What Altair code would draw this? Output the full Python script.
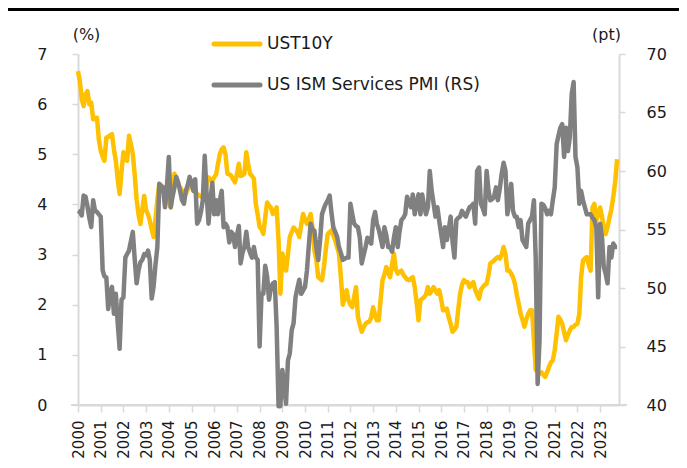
import altair as alt
import pandas as pd

# ---------------- data (monthly, Jan 2000 - Oct 2023) ----------------
start_year = 2000
year_ticks = list(range(2000, 2024))
series_names = ["UST10Y", "US ISM Services PMI (RS)"]
series_colors = ["#FFC000", "#808080"]

ust10y = [
    6.66, 6.45, 6.10, 5.96, 6.20, 6.26, 6.00, 6.03, 5.70, 5.72, 5.73, 5.30,  # 2000
    5.07, 4.95, 4.87, 5.33, 5.35, 5.38, 5.40, 5.10, 4.87, 4.50, 4.21, 4.65,  # 2001
    5.04, 4.95, 4.87, 5.37, 5.20, 5.00, 4.60, 4.10, 3.80, 3.61, 3.90, 4.17,  # 2002
    3.88, 3.80, 3.68, 3.50, 3.35, 3.70, 4.10, 4.41, 4.38, 4.34, 4.28, 4.21,  # 2003
    4.05, 3.94, 4.30, 4.61, 4.50, 4.40, 4.34, 4.28, 4.21, 4.21, 4.30, 4.41,  # 2004
    4.35, 4.28, 4.25, 4.21, 4.18, 4.16, 4.14, 4.21, 4.40, 4.54, 4.50, 4.47,  # 2005
    4.54, 4.60, 4.80, 5.00, 5.10, 5.14, 5.00, 4.61, 4.60, 4.57, 4.50, 4.44,  # 2006
    4.60, 4.81, 4.57, 4.58, 4.61, 5.04, 4.80, 4.61, 4.57, 4.51, 4.01, 3.80,  # 2007
    3.55, 3.50, 3.41, 3.75, 4.04, 3.98, 3.94, 3.81, 3.85, 3.94, 3.28, 2.22,  # 2008
    3.02, 2.85, 2.68, 3.00, 3.35, 3.45, 3.54, 3.50, 3.45, 3.35, 3.60, 3.81,  # 2009
    3.70, 3.61, 3.70, 3.81, 3.54, 3.08, 2.90, 2.55, 2.52, 2.49, 2.75, 3.10,  # 2010
    3.41, 3.45, 3.48, 3.38, 3.28, 3.15, 3.02, 2.55, 2.00, 2.15, 2.29, 2.09,  # 2011
    2.00, 1.95, 2.15, 2.35, 1.76, 1.60, 1.46, 1.55, 1.62, 1.65, 1.66, 1.75,  # 2012
    1.95, 1.80, 1.69, 1.69, 2.10, 2.49, 2.60, 2.75, 2.65, 2.55, 2.80, 3.02,  # 2013
    2.70, 2.62, 2.65, 2.68, 2.60, 2.55, 2.50, 2.49, 2.52, 2.55, 2.35, 2.05,  # 2014
    1.69, 2.09, 2.12, 2.15, 2.20, 2.35, 2.22, 2.28, 2.35, 2.28, 2.22, 2.29,  # 2015
    2.10, 1.89, 1.90, 1.92, 1.75, 1.62, 1.46, 1.50, 1.56, 1.90, 2.22, 2.40,  # 2016
    2.49, 2.45, 2.45, 2.35, 2.40, 2.45, 2.30, 2.20, 2.12, 2.30, 2.35, 2.40,  # 2017
    2.42, 2.60, 2.82, 2.85, 2.88, 2.92, 2.95, 2.92, 3.00, 3.15, 3.00, 2.68,  # 2018
    2.68, 2.62, 2.55, 2.42, 2.20, 2.02, 1.82, 1.70, 1.56, 1.70, 1.82, 1.89,  # 2019
    1.89, 1.30, 0.70, 0.66, 0.63, 0.65, 0.60, 0.56, 0.66, 0.76, 0.85, 0.89,  # 2020
    1.10, 1.43, 1.76, 1.70, 1.62, 1.45, 1.29, 1.40, 1.49, 1.55, 1.56, 1.60,  # 2021
    1.62, 1.82, 2.55, 2.88, 2.92, 2.95, 2.80, 2.68, 3.94, 4.01, 3.68, 3.81,  # 2022
    3.94, 3.75, 3.54, 3.41, 3.55, 3.74, 3.90, 4.15, 4.45, 4.90,              # 2023
]

ism_services = [
    56.6, 56.5, 56.2, 57.9, 57.8, 57.0, 56.0, 55.2, 57.5, 56.6, 56.5, 56.3,  # 2000
    56.1, 51.5, 51.0, 50.9, 48.2, 49.5, 50.1, 47.8, 49.5, 47.0, 44.8, 49.0,  # 2001
    49.2, 52.6, 52.9, 53.2, 54.0, 54.8, 52.5, 50.4, 51.5, 52.2, 52.4, 52.9,  # 2002
    52.8, 53.2, 52.4, 49.1, 50.1, 52.0, 53.5, 58.9, 58.7, 58.6, 56.9, 58.6,  # 2003
    61.2, 56.9, 57.8, 58.6, 59.5, 59.0, 58.3, 57.5, 57.2, 58.3, 58.8, 59.5,  # 2004
    59.0, 58.3, 59.3, 55.5, 55.8, 56.5, 57.5, 61.3, 58.0, 55.5, 57.5, 59.0,  # 2005
    56.3, 57.5, 56.3, 57.5, 58.3, 55.2, 55.5, 55.2, 53.9, 54.8, 54.6, 53.5,  # 2006
    54.5, 55.3, 52.1, 53.0, 53.5, 54.8, 53.5, 53.0, 52.6, 53.5, 52.6, 52.4,  # 2007
    45.0, 49.5, 49.5, 51.9, 51.0, 49.0, 50.0, 50.4, 50.5, 46.7, 39.9, 39.9,  # 2008
    43.0, 41.5, 40.1, 43.8, 44.4, 46.4, 47.0, 49.2, 50.0, 50.7, 49.5, 49.8,  # 2009
    50.1, 51.5, 53.5, 55.5, 55.0, 54.9, 53.5, 52.4, 54.1, 56.3, 56.8, 57.2,  # 2010
    57.5, 57.9, 56.5, 55.2, 54.8, 54.4, 53.5, 53.0, 52.4, 52.5, 52.6, 52.6,  # 2011
    57.2, 56.3, 55.5, 55.3, 55.2, 54.3, 52.1, 52.8, 53.5, 54.3, 54.0, 53.8,  # 2012
    55.8, 56.5, 55.5, 55.0, 54.3, 53.5, 55.2, 54.5, 53.5, 53.5, 53.1, 54.3,  # 2013
    55.2, 53.5, 54.8, 55.8, 56.0, 56.3, 57.8, 57.3, 56.9, 58.0, 56.3, 57.2,  # 2014
    58.0, 56.3, 58.0, 57.0, 56.3, 56.9, 60.0, 58.3, 57.2, 56.1, 56.9, 55.7,  # 2015
    54.6, 53.5, 55.2, 54.1, 55.0, 56.1, 54.0, 52.6, 55.8, 56.0, 56.1, 56.6,  # 2016
    56.3, 56.1, 56.5, 56.9, 57.0, 57.2, 55.5, 60.0, 60.3, 57.2, 56.8, 56.3,  # 2017
    60.0, 58.3, 57.5, 57.6, 57.8, 58.6, 57.5, 58.5, 59.8, 60.7, 60.0, 56.3,  # 2018
    57.5, 58.9, 56.6, 56.1, 56.1, 55.2, 55.8, 54.1, 53.8, 53.5, 55.5, 55.8,  # 2019
    56.1, 57.5, 52.5, 41.8, 45.5, 57.2, 57.1, 56.8, 56.3, 56.6, 56.3, 57.5,  # 2020
    58.6, 62.3, 63.0, 63.7, 64.0, 61.2, 63.7, 61.7, 62.9, 66.6, 67.6, 61.2,  # 2021
    60.3, 57.2, 58.3, 57.5, 56.9, 56.3, 56.3, 56.3, 56.0, 55.8, 55.2, 49.2,  # 2022
    55.5, 54.3, 51.8, 51.2, 50.4, 53.5, 52.6, 53.8, 53.5, 53.5,              # 2023
]

months = [f"{start_year + k // 12}-{k % 12 + 1:02d}-01T00:00:00" for k in range(len(ust10y))]
df = pd.DataFrame({"date": months, "ust": ust10y, "ism": ism_services})

# ---------------- layout / style ----------------
W, H = 541, 351
FONT = "DejaVu Sans"
AXIS_GREY = "#d9d9d9"
TEXT = "#1a1a1a"

x_enc = alt.X(
    "date:T",
    scale=alt.Scale(domain=[alt.DateTime(year=2000, month=1, date=1),
                            alt.DateTime(year=2023, month=11, date=1)]),
    axis=alt.Axis(
        title=None, format="%Y",
        values=[alt.DateTime(year=y, month=1, date=1) for y in year_ticks],
        labelAngle=-90, labelFont=FONT, labelFontSize=15, labelColor=TEXT,
        labelPadding=8, labelOverlap=False, labelFlush=False,
        tickSize=7, tickColor=AXIS_GREY, tickWidth=1.5,
        domainColor=AXIS_GREY, domainWidth=2, grid=False,
    ),
)

left_axis = alt.Axis(
    orient="left", values=list(range(0, 8)), grid=False,
    labelFont=FONT, labelFontSize=16, labelColor=TEXT, labelPadding=25,
    tickSize=6, tickColor=AXIS_GREY, tickWidth=1.5,
    domainColor=AXIS_GREY, domainWidth=2,
    title="(%)", titleAngle=0, titleX=8, titleY=-20, titleAlign="center",
    titleBaseline="middle", titleFont=FONT, titleFontSize=16,
    titleFontWeight="normal", titleColor=TEXT,
)
right_axis = alt.Axis(
    orient="right", values=list(range(40, 75, 5)), grid=False,
    labelFont=FONT, labelFontSize=16, labelColor=TEXT, labelPadding=21,
    tickSize=6, tickColor=AXIS_GREY, tickWidth=1.5,
    domainColor=AXIS_GREY, domainWidth=2,
    title="(pt)", titleAngle=0, titleX=-13, titleY=-20, titleAlign="center",
    titleBaseline="middle", titleFont=FONT, titleFontSize=16,
    titleFontWeight="normal", titleColor=TEXT,
)

yellow = alt.Chart(df).mark_line(
    color=series_colors[0], strokeWidth=4.5, strokeJoin="round"
).encode(
    x=x_enc,
    y=alt.Y("ust:Q", scale=alt.Scale(domain=[0, 7], nice=False, zero=False), axis=left_axis),
)

grey = alt.Chart(df).mark_line(
    color=series_colors[1], strokeWidth=4.5, strokeJoin="round"
).encode(
    x=x_enc,
    y=alt.Y("ism:Q", scale=alt.Scale(domain=[40, 70], nice=False, zero=False), axis=right_axis),
)

one = pd.DataFrame({"k": [0]})

# extended baseline (Excel style, slightly past both vertical axes)
baseline = alt.Chart(one).mark_rule(color=AXIS_GREY, strokeWidth=2).encode(
    x=alt.value(-7), x2=alt.value(W + 8), y=alt.value(H)
)

# thick black rule at the very top of the figure
top_rule = alt.Chart(one).mark_rule(color="#000000", strokeWidth=3).encode(
    x=alt.value(-70), x2=alt.value(W + 60), y=alt.value(-44.5)
)

legend_layers = []
for i, (name, col) in enumerate(zip(series_names, series_colors)):
    ly = -10 + 41 * i
    ldf = pd.DataFrame({"label": [name]})
    legend_layers.append(
        alt.Chart(ldf).mark_rule(color=col, strokeWidth=5, strokeCap="round").encode(
            x=alt.value(136), x2=alt.value(182), y=alt.value(ly)
        )
    )
    legend_layers.append(
        alt.Chart(ldf).mark_text(
            align="left", baseline="middle", font=FONT, fontSize=17, color=TEXT
        ).encode(text="label:N", x=alt.value(189), y=alt.value(ly))
    )

chart = alt.layer(
    baseline, yellow, grey, top_rule, *legend_layers
).resolve_scale(
    y="independent"
).properties(
    width=W, height=H,
    padding={"left": 70, "top": 46, "right": 60, "bottom": 55},
    autosize=alt.AutoSizeParams(type="none"),
).configure_view(stroke=None)

chart.save("out.html", embed_options={"renderer": "svg", "actions": False})
